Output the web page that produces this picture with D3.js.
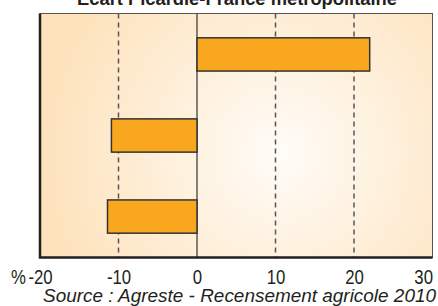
<!DOCTYPE html>
<html>
<head>
<meta charset="utf-8">
<script src="https://cdn.jsdelivr.net/npm/d3@7"></script>
<style>
  body { margin: 0; background: #fff; }
  svg { display: block; }
  text { font-family: "Liberation Sans", Arial, sans-serif; fill: #231f20; }
</style>
</head>
<body>
<div id="chart"></div>
<script>
// Data
const categories = ['Série 1', 'Série 2', 'Série 3'];
const values = [22.0, -10.9, -11.4];
const tickValues = [-20, -10, 0, 10, 20, 30];
const title = 'Ecart Picardie-France métropolitaine';
const source = 'Source : Agreste - Recensement agricole 2010';

const width = 438, height = 306;
const margin = { top: 13.5, right: 5.5, bottom: 48.5, left: 40 };
const innerW = width - margin.left - margin.right;
const innerH = height - margin.top - margin.bottom;
const narrow = 'scale(0.84,1)'; // condensed look for the labels

const svg = d3.select('#chart').append('svg')
    .attr('width', width)
    .attr('height', height);

// Background gradient
const defs = svg.append('defs');
const grad = defs.append('radialGradient')
    .attr('id', 'bg')
    .attr('gradientUnits', 'userSpaceOnUse')
    .attr('cx', 240).attr('cy', 140).attr('r', 240);
grad.append('stop').attr('offset', '0%').attr('stop-color', '#fffcf8');
grad.append('stop').attr('offset', '100%').attr('stop-color', '#fde2bb');

const x = d3.scaleLinear()
    .domain([-20, 30])
    .range([0, innerW]);

const y = d3.scaleBand()
    .domain(categories)
    .range([0, innerH])
    .paddingInner(0.59)
    .paddingOuter(0.3);

const g = svg.append('g')
    .attr('transform', `translate(${margin.left},${margin.top})`);

g.append('rect')
    .attr('width', innerW)
    .attr('height', innerH)
    .attr('fill', 'url(#bg)')
    .attr('stroke', '#555')
    .attr('stroke-width', 1);

// Dashed gridlines
g.selectAll('.grid')
    .data(tickValues.filter(d => d !== 0 && d !== -20 && d !== 30))
    .enter().append('line')
    .attr('class', 'grid')
    .attr('x1', d => x(d)).attr('x2', d => x(d))
    .attr('y1', 0).attr('y2', innerH)
    .attr('stroke', '#555')
    .attr('stroke-width', 1.5)
    .attr('stroke-dasharray', '5,4');

// Zero line
g.append('line')
    .attr('x1', x(0)).attr('x2', x(0))
    .attr('y1', 0).attr('y2', innerH)
    .attr('stroke', '#333')
    .attr('stroke-width', 1.2);

// Bars
g.selectAll('.bar')
    .data(values)
    .enter().append('rect')
    .attr('class', 'bar')
    .attr('x', d => x(Math.min(0, d)))
    .attr('y', (d, i) => y(categories[i]))
    .attr('width', d => Math.abs(x(d) - x(0)))
    .attr('height', y.bandwidth())
    .attr('fill', '#f8a71f')
    .attr('stroke', '#333')
    .attr('stroke-width', 1.5);

// Heavy left and bottom frame
g.append('path')
    .attr('d', `M0,0V${innerH}H${innerW}`)
    .attr('fill', 'none')
    .attr('stroke', '#231f20')
    .attr('stroke-width', 2.5);

// X axis
const xAxis = g.append('g')
    .attr('transform', `translate(0,${innerH})`)
    .call(d3.axisBottom(x).tickValues(tickValues).tickSize(0).tickFormat(d3.format('d')));
xAxis.select('.domain').remove();
xAxis.selectAll('text')
    .attr('font-size', 20)
    .attr('font-family', '"Liberation Sans", Arial, sans-serif')
    .attr('fill', '#231f20')
    .attr('y', 26.5)
    .attr('dy', 0)
    .attr('transform', narrow)
    .attr('text-anchor', d => d === 30 ? 'end' : 'middle')
    .text(d => d < 0 ? '-' + Math.abs(d) : d);

svg.append('text')
    .attr('transform', `translate(26,284) ${narrow}`)
    .attr('text-anchor', 'end')
    .attr('font-size', 20)
    .text('%');

// Title
svg.append('text')
    .attr('x', 77)
    .attr('y', 5)
    .attr('font-size', 18)
    .attr('font-weight', 'bold')
    .attr('textLength', 320)
    .attr('lengthAdjust', 'spacingAndGlyphs')
    .text(title);

// Source
svg.append('text')
    .attr('x', 43)
    .attr('y', 302)
    .attr('font-size', 17.5)
    .attr('font-style', 'italic')
    .attr('textLength', 393)
    .attr('lengthAdjust', 'spacingAndGlyphs')
    .text(source);
</script>
</body>
</html>
